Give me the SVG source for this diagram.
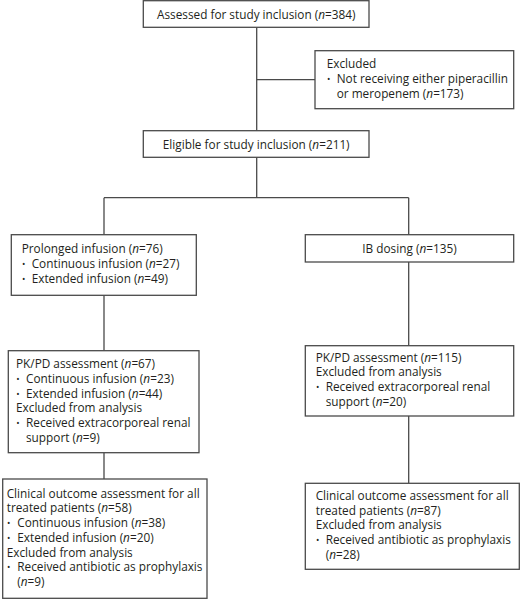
<svg xmlns="http://www.w3.org/2000/svg" width="520" height="599" viewBox="0 0 520 599">
<style>
.box{fill:#fff;stroke:#4a4a4a;stroke-width:1.3}
.ln{fill:none;stroke:#4a4a4a;stroke-width:1.3}
text{font-family:"Open Sans","Liberation Sans",sans-serif;font-size:11.8px;fill:#231f20}
.c{text-anchor:middle}
.b{font-size:9px}
</style>
<rect width="520" height="599" fill="#fff"/>
<g id="connectors">
<path class="ln" d="M256.7,27.3V130.7M256.7,79.7H315M256.7,157.3V197.7M104,197.7H408.7M104,197.7V234.7M408.7,197.7V234.7M408.7,262V345.7M104,295.3V350.7M104,452.7V479M408.7,416V483.3"/>
</g>
<g id="assessed">
<rect class="box" x="143.3" y="0.7" width="225.7" height="26.6"/>
<text class="c" x="256.2" y="18.5">Assessed for study inclusion (<tspan font-style="italic">n</tspan>=384)</text>
</g>
<g id="excluded">
<rect class="box" x="315" y="50.7" width="198.7" height="58"/>
<text x="326.7" y="67.5">Excluded</text>
<text class="b" x="327" y="81.5">•</text>
<text x="336.7" y="82.5">Not receiving either piperacillin</text>
<text x="336.7" y="97.5">or meropenem (<tspan font-style="italic">n</tspan>=173)</text>
</g>
<g id="eligible">
<rect class="box" x="143.3" y="130.7" width="225.7" height="26.6"/>
<text class="c" x="256.2" y="148.5">Eligible for study inclusion (<tspan font-style="italic">n</tspan>=211)</text>
</g>
<g id="prolonged">
<rect class="box" x="11.3" y="234.7" width="185" height="60.6"/>
<text x="21.7" y="253.3">Prolonged infusion (<tspan font-style="italic">n</tspan>=76)</text>
<text class="b" x="22" y="267">•</text>
<text x="31.7" y="268">Continuous infusion (<tspan font-style="italic">n</tspan>=27)</text>
<text class="b" x="22" y="281.7">•</text>
<text x="31.7" y="282.7">Extended infusion (<tspan font-style="italic">n</tspan>=49)</text>
</g>
<g id="ib">
<rect class="box" x="305.3" y="234.7" width="208.4" height="27.3"/>
<text class="c" x="409.5" y="252.5">IB dosing (<tspan font-style="italic">n</tspan>=135)</text>
</g>
<g id="pkpd-left">
<rect class="box" x="8.3" y="350.7" width="190.7" height="102"/>
<text x="16" y="368.3">PK/PD assessment (<tspan font-style="italic">n</tspan>=67)</text>
<text class="b" x="16.3" y="382">•</text>
<text x="26" y="383">Continuous infusion (<tspan font-style="italic">n</tspan>=23)</text>
<text class="b" x="16.3" y="396.7">•</text>
<text x="26" y="397.7">Extended infusion (<tspan font-style="italic">n</tspan>=44)</text>
<text x="16" y="412.4">Excluded from analysis</text>
<text class="b" x="16.3" y="426.1">•</text>
<text x="26" y="427.1">Received extracorporeal renal</text>
<text x="26" y="441.8">support (<tspan font-style="italic">n</tspan>=9)</text>
</g>
<g id="pkpd-right">
<rect class="box" x="305.3" y="345.7" width="208.4" height="70.3"/>
<text x="315.7" y="361.7">PK/PD assessment (<tspan font-style="italic">n</tspan>=115)</text>
<text x="315.7" y="376.4">Excluded from analysis</text>
<text class="b" x="316" y="390.1">•</text>
<text x="325.7" y="391.1">Received extracorporeal renal</text>
<text x="325.7" y="405.8">support (<tspan font-style="italic">n</tspan>=20)</text>
</g>
<g id="clinical-left">
<rect class="box" x="2.7" y="479" width="204.3" height="119.3"/>
<text x="6.7" y="497.7">Clinical outcome assessment for all</text>
<text x="6.7" y="512.4">treated patients (<tspan font-style="italic">n</tspan>=58)</text>
<text class="b" x="7" y="526.1">•</text>
<text x="17.3" y="527.1">Continuous infusion (<tspan font-style="italic">n</tspan>=38)</text>
<text class="b" x="7" y="540.8">•</text>
<text x="17.3" y="541.8">Extended infusion (<tspan font-style="italic">n</tspan>=20)</text>
<text x="6.7" y="556.5">Excluded from analysis</text>
<text class="b" x="7" y="570.2">•</text>
<text x="17.3" y="571.2">Received antibiotic as prophylaxis</text>
<text x="17.3" y="585.9">(<tspan font-style="italic">n</tspan>=9)</text>
</g>
<g id="clinical-right">
<rect class="box" x="305.3" y="483.3" width="214" height="86"/>
<text x="315.7" y="500">Clinical outcome assessment for all</text>
<text x="315.7" y="514.7">treated patients (<tspan font-style="italic">n</tspan>=87)</text>
<text x="315.7" y="529.4">Excluded from analysis</text>
<text class="b" x="316" y="543.1">•</text>
<text x="325.7" y="544.1">Received antibiotic as prophylaxis</text>
<text x="325.7" y="558.8">(<tspan font-style="italic">n</tspan>=28)</text>
</g>
</svg>
